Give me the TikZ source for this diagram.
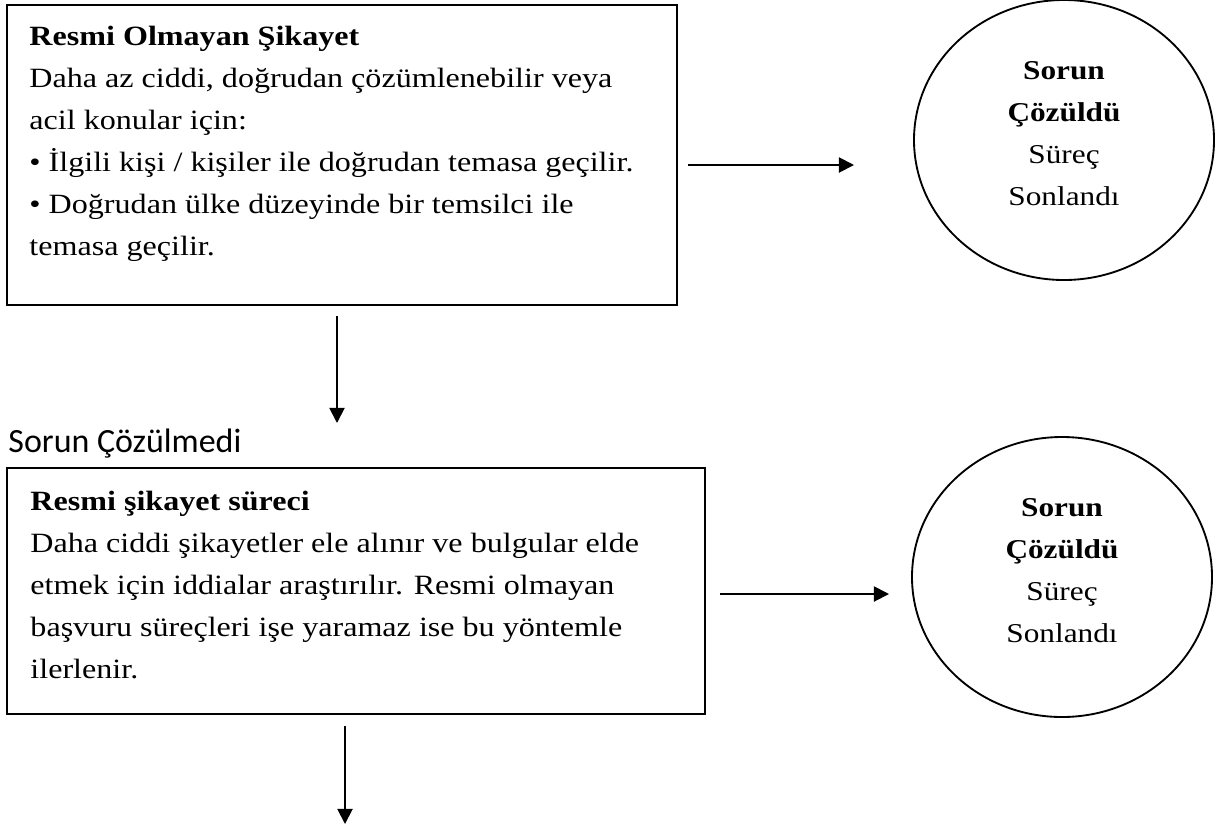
\documentclass[tikz,border=0pt]{standalone}
\usepackage{fontspec}
\setmainfont{Liberation Serif}[FakeStretch=1.15]
\newfontfamily\calibrifont{Carlito}
\usepackage{tikz}
\usetikzlibrary{positioning, shapes.geometric, arrows.meta}

\begin{document}
\begin{tikzpicture}[x=0.43pt, y=-0.43pt]
	\tikzstyle{box}=[rectangle, draw=black, line width=1pt]
	\tikzstyle{oval}=[ellipse, draw=black, line width=0.8pt, minimum width=129pt, minimum height=120.4pt, inner sep=0pt, text depth=5.5pt, align=center, font=\fontsize{11.7}{18}\selectfont]
	\tikzstyle{txt}=[inner sep=0pt, anchor=base west, align=left, font=\fontsize{12}{18}\selectfont]
	\tikzstyle{arr}=[line width=0.8pt, -{Triangle[length=6.5pt, width=6.5pt]}]
	\useasboundingbox (0,0) rectangle (1219,825);
	% boxes
	\node[box, minimum width=288.1pt, minimum height=129pt](b1) at (342,155) {};
	\node[box, minimum width=300.1pt, minimum height=105.8pt](b2) at (356,591) {};
	% texts (anchored at the baseline of the last line)
	\node[txt](t1) at (29,255) {\textbf{Resmi Olmayan Şikayet}\\
		Daha az ciddi, doğrudan çözümlenebilir veya\\
		acil konular için:\\
		• İlgili kişi / kişiler ile doğrudan temasa geçilir.\\
		• Doğrudan ülke düzeyinde bir temsilci ile\\
		temasa geçilir.};
	\node[txt](t2) at (30,678) {\textbf{Resmi şikayet süreci}\\
		Daha ciddi şikayetler ele alınır ve bulgular elde\\
		etmek için iddialar araştırılır. Resmi olmayan\\
		başvuru süreçleri işe yaramaz ise bu yöntemle\\
		ilerlenir.};
	\node[inner sep=0pt, anchor=base west, font=\calibrifont\fontsize{14.6}{16}\selectfont](l1) at (8,452) {Sorun Çözülmedi};
	% end states
	\node[oval](c1) at (1064,140) {\textbf{Sorun}\\ \textbf{Çözüldü}\\ Süreç\\ Sonlandı};
	\node[oval](c2) at (1062,577) {\textbf{Sorun}\\ \textbf{Çözüldü}\\ Süreç\\ Sonlandı};
	% arrows
	\coordinate (r1s) at (688,165);
	\coordinate (r1e) at (854,165);
	\coordinate (r2s) at (720,594);
	\coordinate (r2e) at (889,594);
	\coordinate (d1s) at (337,316);
	\coordinate (d1e) at (337,423);
	\coordinate (d2s) at (345,726);
	\coordinate (d2e) at (345,824);
	\draw[arr](r1s) -- (r1e);
	\draw[arr](r2s) -- (r2e);
	\draw[arr](d1s) -- (d1e);
	\draw[arr](d2s) -- (d2e);
\end{tikzpicture}
\end{document}
